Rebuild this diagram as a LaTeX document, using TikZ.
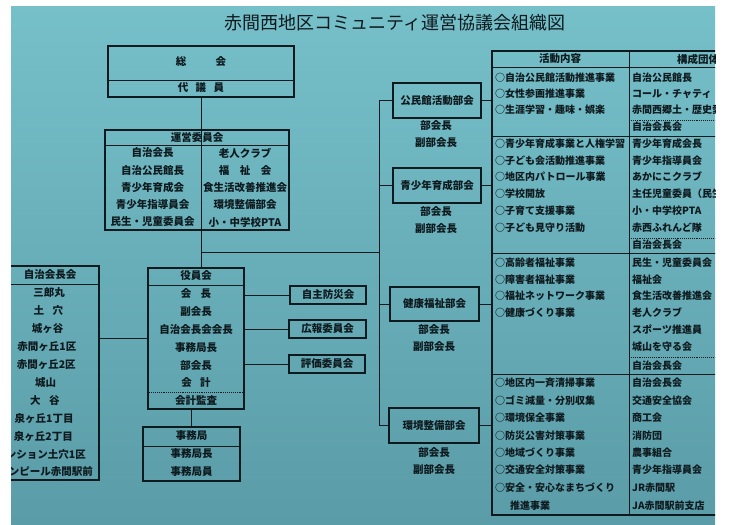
\documentclass[tikz,border=0pt]{standalone}
\usepackage{fontspec}
\setmainfont{Noto Sans CJK JP}
\definecolor{ink}{HTML}{0E1A1E}
\definecolor{bgtop}{HTML}{76C0CA}
\definecolor{bgbot}{HTML}{5A9CA7}
\begin{document}
\begin{tikzpicture}[x=1pt,y=-1pt,
  ln/.style={draw=ink, line width=0.9pt},
  box/.style={draw=ink, line width=1.4pt, rectangle, inner sep=0pt},
  cbox/.style={draw=ink, line width=2.2pt, rectangle, inner sep=0pt, font=\fontsize{10.5}{12}\selectfont\bfseries, text=ink},
  txt/.style={font=\fontsize{10.5}{12}\selectfont\bfseries, text=ink, inner sep=0pt},
  ttxt/.style={font=\fontsize{10}{12}\selectfont\bfseries, text=ink, inner sep=0pt, anchor=west},
]
\useasboundingbox (0,0) rectangle (729,525);
\begin{scope}
\clip (11,6) rectangle (715,525);
\shade[top color=bgtop, bottom color=bgbot] (11,6) rectangle (715,525);

% title
\node[font=\fontsize{18}{20}\selectfont, text=ink, inner sep=0pt] (title) at (395,23) {赤間西地区コミュニティ運営協議会組織図};

% boxes
\node[box, minimum width=186pt, minimum height=51pt] (soukai) at (201,71.5) {};
\node[box, minimum width=184pt, minimum height=100pt] (unei) at (197,180) {};
\node[box, minimum width=96pt, minimum height=141pt] (yakuin) at (196,338.5) {};
\node[box, minimum width=97pt, minimum height=54pt] (jimu) at (191.5,454) {};
\node[box, minimum width=119pt, minimum height=214pt] (jichi) at (39.5,373) {};
\node[cbox, minimum width=76pt, minimum height=18pt] (jishu) at (328,295) {自主防災会};
\node[cbox, minimum width=77pt, minimum height=18pt] (kouhou) at (327.5,329) {広報委員会};
\node[cbox, minimum width=76pt, minimum height=18pt] (hyouka) at (327,364) {評価委員会};
\node[cbox, minimum width=88pt, minimum height=35pt] (kominkan) at (437,100.5) {公民館活動部会};
\node[cbox, minimum width=88pt, minimum height=35pt] (seisho) at (437,185.5) {青少年育成部会};
\node[cbox, minimum width=89pt, minimum height=34pt] (kenko) at (434.5,304) {健康福祉部会};
\node[cbox, minimum width=90pt, minimum height=35pt] (kankyo) at (434,425.5) {環境整備部会};
\node[box, line width=1.1pt, minimum width=300pt, minimum height=464pt] (tab) at (642,283) {};

% dividers
\draw[ln] (soukai.west |- 0,80) -- (soukai.east |- 0,80);
\draw[ln] (unei.west |- 0,145) -- (unei.east |- 0,145);
\draw[ln] (yakuin.west |- 0,285) -- (yakuin.east |- 0,285);
\draw[ln, densely dotted] (yakuin.west |- 0,392) -- (yakuin.east |- 0,392);
\draw[ln] (jimu.west |- 0,446) -- (jimu.east |- 0,446);
\draw[ln] (jichi.west |- 0,284) -- (jichi.east |- 0,284);

% table lines
\coordinate (coldiv) at (629,0);
\draw[ln] (tab.west |- 0,67) -- (tab.east |- 0,67);
\draw[ln] (tab.west |- 0,136) -- (tab.east |- 0,136);
\draw[ln] (tab.west |- 0,253) -- (tab.east |- 0,253);
\draw[ln] (tab.west |- 0,374) -- (tab.east |- 0,374);
\draw[ln] (coldiv |- tab.north) -- (coldiv |- tab.south);
\draw[ln, densely dotted] (coldiv |- 0,120) -- (tab.east |- 0,120);
\draw[ln, densely dotted] (coldiv |- 0,238) -- (tab.east |- 0,238);
\draw[ln, densely dotted] (coldiv |- 0,357) -- (tab.east |- 0,357);

% connectors
\coordinate (bus) at (379,0);
\coordinate (j1) at (201,252);
\draw[ln] (soukai.south) -- (soukai.south |- yakuin.north);
\draw[ln] (j1) -- (bus |- j1);
\draw[ln] (bus |- kominkan.west) -- (bus |- kankyo.west);
\foreach \b in {kominkan,seisho,kenko,kankyo}{
  \draw[ln] (bus |- \b.west) -- (\b.west);
  \draw[ln] (\b.east) -- (\b.east -| tab.west);
}
\draw[ln] (yakuin.east |- jishu.west) -- (jishu.west);
\draw[ln] (yakuin.east |- kouhou.west) -- (kouhou.west);
\draw[ln] (yakuin.east |- hyouka.west) -- (hyouka.west);
\draw[ln] (jichi.east |- 0,338) -- (yakuin.west |- 0,338);
\draw[ln] (jimu.north) -- (jimu.north |- yakuin.south);

% soukai texts
\node[txt] (t-soukai) at (201,62) {総\hspace{2.8em}会};
\node[txt] (t-daigi) at (201,88) {代\hspace{0.7em}議\hspace{0.7em}員};

% unei texts
\node[txt] (t-unei) at (197,137) {運営委員会};
\foreach \t [count=\i] in {自治会長,自治公民館長,青少年育成会,青少年指導員会,民生・児童委員会}
  \node[txt] (ul-\i) at (152.5,{153+(\i-1)*17.25}) {\t};
\foreach \t [count=\i] in {老人クラブ,福\hspace{1em}祉\hspace{1em}会,食生活改善推進会,環境整備部会,小・中学校PTA}
  \node[txt] (ur-\i) at (245,{153+(\i-1)*17.25}) {\t};

% yakuin texts
\node[txt] (t-yakuin) at (196,276) {役員会};
\foreach \t [count=\i] in {会\hspace{0.9em}長,副会長,自治会長会会長,事務局長,部会長,会\hspace{0.8em}計}
  \node[txt] (y-\i) at (196,{294+(\i-1)*17.8}) {\t};
\node[txt] (t-kansa) at (196,401) {会計監査};

% jimu texts
\node[txt] (t-jimu) at (191.5,436) {事務局};
\node[txt] (t-jimu1) at (191.5,454) {事務局長};
\node[txt] (t-jimu2) at (191.5,472) {事務局員};

% jichi texts
\node[txt] (t-jichi) at (50,275) {自治会長会};
\foreach \t [count=\i] in {三郎丸,土\hspace{0.8em}穴,城ヶ谷,赤間ヶ丘1区,赤間ヶ丘2区,城山,大\hspace{0.8em}谷,泉ヶ丘1丁目,泉ヶ丘2丁目}
  \node[txt] (jc-\i) at ({49-(\i-1)*0.7},{293+(\i-1)*17.9}) {\t};
\node[txt, anchor=east] (jc-10) at (86,455) {ンション土穴1区};
\node[txt, anchor=east] (jc-11) at (93,472) {ンピール赤間駅前};

% bukai sub texts
\foreach \b/\x/\y in {kominkan/436/126, seisho/436/212, kenko/434/330, kankyo/434/453}{
  \node[txt] (bk-\b) at (\x,\y) {部会長};
  \node[txt] (fbk-\b) at (\x,\y+17) {副部会長};
}

% table headers
\node[txt] (h-katsu) at (560,59) {活動内容};
\node[txt] (h-kosei) at (698,59) {構成団体};

% section 1
\foreach \t/\y [count=\i] in {○自治公民館活動推進事業/78, ○女性参画推進事業/94, ○生涯学習・趣味・娯楽/110}
  \node[ttxt] (a1-\i) at (495,\y) {\t};
\foreach \t/\y [count=\i] in {自治公民館長/78, コール・チャティ/94, 赤間西郷土・歴史愛/110, 自治会長会/127}
  \node[ttxt] (b1-\i) at (632,\y) {\t};
% section 2
\foreach \t/\y [count=\i] in {○青少年育成事業と人権学習/144, ○子ども会活動推進事業/160.5, ○地区内パトロール事業/177, ○学校開放/194, ○子育て支援事業/211, ○子ども見守り活動/228}
  \node[ttxt] (a2-\i) at (495,\y) {\t};
\foreach \t/\y [count=\i] in {青少年育成会長/144, 青少年指導員会/160.5, あかにこクラブ/177, 主任児童委員（民生/194, 小・中学校PTA/211, 赤西ふれんど隊/228, 自治会長会/245}
  \node[ttxt] (b2-\i) at (632,\y) {\t};
% section 3
\foreach \t/\y [count=\i] in {○高齢者福祉事業/263, ○障害者福祉事業/279.5, ○福祉ネットワーク事業/296, ○健康づくり事業/313}
  \node[ttxt] (a3-\i) at (495,\y) {\t};
\foreach \t/\y [count=\i] in {民生・児童委員会/263, 福祉会/279.5, 食生活改善推進会/296, 老人クラブ/313, スポーツ推進員/330, 城山を守る会/347, 自治会長会/366}
  \node[ttxt] (b3-\i) at (632,\y) {\t};
% section 4
\foreach \t/\y [count=\i] in {○地区内一斉清掃事業/383, ○ゴミ減量・分別収集/401, ○環境保全事業/418, ○防災公害対策事業/436, ○地域づくり事業/453, ○交通安全対策事業/470, ○安全・安心なまちづくり/488}
  \node[ttxt] (a4-\i) at (495,\y) {\t};
\node[ttxt] (a4-8) at (510,506) {推進事業};
\foreach \t/\y [count=\i] in {自治会長会/383, 交通安全協会/401, 商工会/418, 消防団/436, 農事組合/453, 青少年指導員会/470, JR赤間駅/488, JA赤間駅前支店/506}
  \node[ttxt] (b4-\i) at (632,\y) {\t};
\end{scope}
\end{tikzpicture}
\end{document}
